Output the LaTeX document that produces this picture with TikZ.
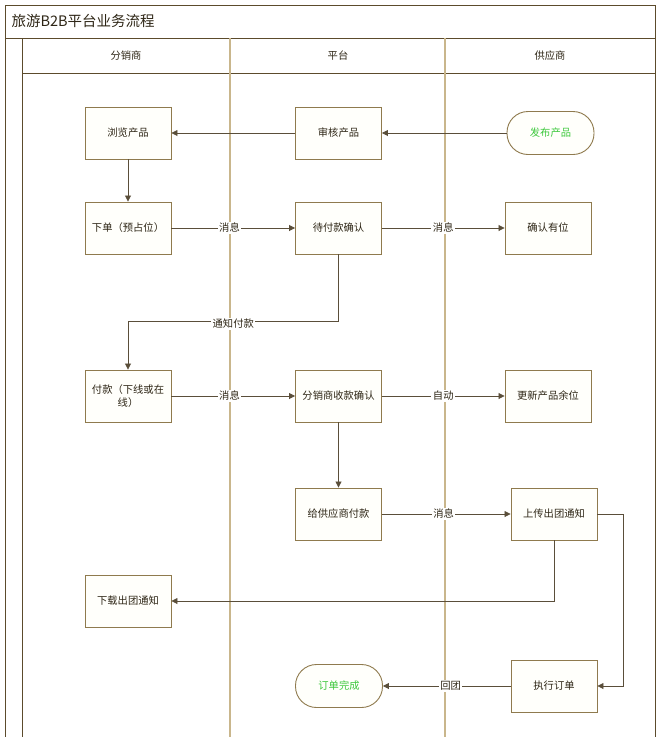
\documentclass[tikz,border=0pt]{standalone}
\usepackage{fontspec}
\setmainfont{Noto Sans CJK SC}
\usetikzlibrary{arrows.meta}
\definecolor{frame}{HTML}{5C4B2C}
\definecolor{lane}{HTML}{C9B68C}
\definecolor{boxline}{HTML}{8F7A4E}
\definecolor{conn}{HTML}{5A4E3A}
\definecolor{txt}{HTML}{2E2616}
\definecolor{grn}{HTML}{3CC83C}
\definecolor{boxfill}{HTML}{FFFFFB}
\tikzset{
  stepbox/.style={draw=boxline, fill=boxfill, line width=0.9pt, minimum width=86pt, minimum height=52pt, inner sep=2pt, font=\fontsize{10.3}{13}\selectfont, text=txt, align=center},
  termbox/.style={draw=boxline, fill=boxfill, line width=0.9pt, rounded corners=21pt, minimum width=87pt, minimum height=43pt, font=\fontsize{10.3}{13}\selectfont, text=grn},
  conn/.style={draw=conn, line width=0.8pt, -{Triangle[width=6pt,length=6pt]}},
  lbl/.style={fill=white, inner sep=1.5pt, font=\fontsize{10.3}{13}\selectfont, text=txt},
  hdr/.style={text=txt, font=\fontsize{10.3}{13}\selectfont},
}
\begin{document}
\begin{tikzpicture}[x=1pt,y=-1pt]
\useasboundingbox (0,0) rectangle (658,737);
% frame
\draw[frame, line width=1pt] (5,737) -- (5,5) -- (655,5) -- (655,737);
\draw[frame, line width=0.8pt] (5,38) -- (655,38);
\draw[frame, line width=0.8pt] (22,38) -- (22,737);
\draw[frame, line width=0.8pt] (22,73) -- (655,73);
\draw[lane, line width=1.2pt] (230,38) -- (230,737);
\draw[lane, line width=1.2pt] (445,38) -- (445,737);
\node[anchor=west, text=txt, font=\fontsize{14.5}{17}\selectfont] (title) at (8,21) {旅游B2B平台业务流程};
\node[hdr] (h1) at (126,56) {分销商};
\node[hdr] (h2) at (338,56) {平台};
\node[hdr] (h3) at (550,56) {供应商};
% nodes
\node[stepbox] (browse) at (128,133) {浏览产品};
\node[stepbox] (audit) at (338.5,133) {审核产品};
\node[termbox] (publish) at (550.5,133) {发布产品};
\node[stepbox] (order) at (128,228) {下单（预占位）};
\node[stepbox] (wait) at (338.5,228) {待付款确认};
\node[stepbox] (confirm) at (548,228) {确认有位};
\node[stepbox] (pay) at (128,396) {付款（下线或在\\线）};
\node[stepbox] (recv) at (338.5,396) {分销商收款确认};
\node[stepbox] (update) at (548,396) {更新产品余位};
\node[stepbox] (paysup) at (338.5,514) {给供应商付款};
\node[stepbox] (upload) at (554,514) {上传出团通知};
\node[stepbox] (download) at (128,601) {下载出团通知};
\node[stepbox] (exec) at (554,686) {执行订单};
\node[termbox] (done) at (339,686) {订单完成};
\coordinate (c1) at (338.5,321);
\coordinate (c2) at (128,321);
\coordinate (c3) at (554,601);
\coordinate (c4) at (623,514);
\coordinate (c5) at (623,686);
% connectors
\draw[conn] (audit) -- (browse);
\draw[conn] (publish) -- (audit);
\draw[conn] (browse) -- (order);
\draw[conn] (order) -- node[lbl, pos=0.47]{消息} (wait);
\draw[conn] (wait) -- node[lbl, pos=0.5]{消息} (confirm);
\draw[conn] (wait.south) -- (c1) -- node[lbl, pos=0.5, yshift=-3pt]{通知付款} (c2) -- (pay.north);
\draw[conn] (pay) -- node[lbl, pos=0.47]{消息} (recv);
\draw[conn] (recv) -- node[lbl, pos=0.5]{自动} (update);
\draw[conn] (recv) -- (paysup);
\draw[conn] (paysup) -- node[lbl, pos=0.48]{消息} (upload);
\draw[conn] (upload.south) -- (c3) -- (download.east);
\draw[conn] (upload.east) -- (c4) -- (c5) -- (exec.east);
\draw[conn] (exec) -- node[lbl, pos=0.47]{回团} (done);
\end{tikzpicture}
\end{document}
